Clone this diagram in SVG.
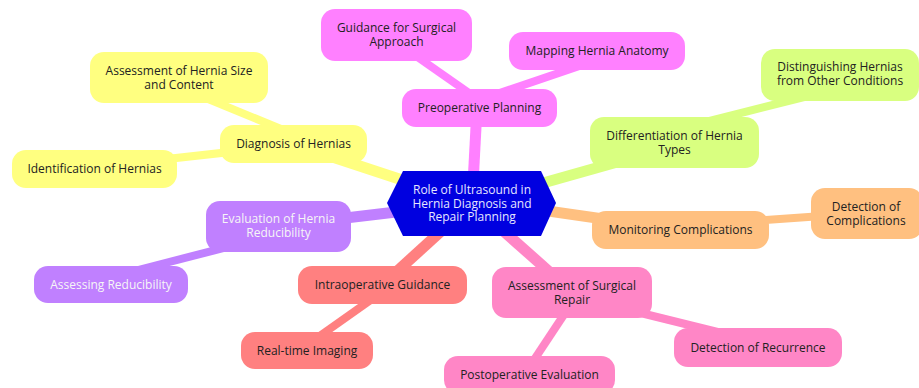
<svg xmlns="http://www.w3.org/2000/svg" width="919" height="388" viewBox="0 0 919 388">
  <style>
    text { font-family: "Open Sans", "DejaVu Sans", sans-serif; font-size: 12px; text-anchor: middle; fill: #222; }
    .root text { fill: #e6e6ff; }
    .light text { fill: #f6f6f6; }
    .edge { fill: none; stroke-linecap: butt; }
    .main { stroke-width: 11; }
    .sub { stroke-width: 8; }
    .c1 { fill: #ffff80; } .s1 { stroke: #ffff80; }
    .c2 { fill: #ff80ff; } .s2 { stroke: #ff80ff; }
    .c3 { fill: #d9ff80; } .s3 { stroke: #d9ff80; }
    .c4 { fill: #ffc080; } .s4 { stroke: #ffc080; }
    .c5 { fill: #c080ff; } .s5 { stroke: #c080ff; }
    .c6 { fill: #ff8080; } .s6 { stroke: #ff8080; }
    .c7 { fill: #ff86c6; } .s7 { stroke: #ff86c6; }
  </style>

  <!-- connectors -->
  <g id="connectors">
    <line class="edge main s1" x1="293" y1="144" x2="472" y2="203"/>
    <line class="edge main s2" x1="477" y1="108" x2="472" y2="203"/>
    <line class="edge main s3" x1="674" y1="146" x2="472" y2="203"/>
    <line class="edge main s4" x1="680" y1="230" x2="472" y2="200"/>
    <line class="edge main s5" x1="278" y1="226" x2="472" y2="203"/>
    <line class="edge main s6" x1="382" y1="285" x2="472" y2="203"/>
    <line class="edge main s7" x1="572" y1="292" x2="472" y2="203"/>

    <line class="edge sub s1" x1="179" y1="87" x2="293" y2="134"/>
    <line class="edge sub s1" x1="95" y1="167" x2="293" y2="145"/>
    <line class="edge sub s2" x1="396" y1="42" x2="479" y2="100"/>
    <line class="edge sub s2" x1="479" y1="100" x2="597" y2="60"/>
    <line class="edge sub s3" x1="674" y1="130" x2="840" y2="88"/>
    <line class="edge sub s4" x1="680" y1="226" x2="865" y2="213"/>
    <line class="edge sub s5" x1="111" y1="277" x2="278" y2="234"/>
    <line class="edge sub s6" x1="307" y1="345" x2="382" y2="292"/>
    <line class="edge sub s7" x1="572" y1="296" x2="758" y2="342"/>
    <line class="edge sub s7" x1="579" y1="292" x2="524" y2="375"/>
  </g>

  <!-- root -->
  <g id="root" class="root">
    <polygon points="387,203 403,171 541,171 556,203 541,236 403,236" fill="#0000e0"/>
    <text x="472" y="194">Role of Ultrasound in</text>
    <text x="472" y="207.5">Hernia Diagnosis and</text>
    <text x="472" y="221">Repair Planning</text>
  </g>

  <!-- diagnosis branch -->
  <g id="diagnosis">
    <rect class="c1" x="220" y="125" width="147" height="38" rx="14"/>
    <text x="293.5" y="148">Diagnosis of Hernias</text>
  </g>
  <g id="size-content">
    <rect class="c1" x="90" y="52" width="178" height="51" rx="14"/>
    <text x="179" y="75">Assessment of Hernia Size</text>
    <text x="179" y="88.5">and Content</text>
  </g>
  <g id="identification">
    <rect class="c1" x="12" y="150" width="165" height="38" rx="14"/>
    <text x="94.5" y="173">Identification of Hernias</text>
  </g>

  <!-- preoperative branch -->
  <g id="preoperative">
    <rect class="c2" x="402" y="89" width="155" height="38" rx="14"/>
    <text x="479.5" y="112">Preoperative Planning</text>
  </g>
  <g id="surgical-approach">
    <rect class="c2" x="321" y="9" width="151" height="52" rx="14"/>
    <text x="396.5" y="32">Guidance for Surgical</text>
    <text x="396.5" y="45.5">Approach</text>
  </g>
  <g id="mapping">
    <rect class="c2" x="509" y="32" width="176" height="38" rx="14"/>
    <text x="597" y="55">Mapping Hernia Anatomy</text>
  </g>

  <!-- differentiation branch -->
  <g id="differentiation">
    <rect class="c3" x="590" y="117" width="169" height="51" rx="14"/>
    <text x="674.5" y="140">Differentiation of Hernia</text>
    <text x="674.5" y="153.5">Types</text>
  </g>
  <g id="distinguishing">
    <rect class="c3" x="761" y="49" width="158" height="52" rx="14"/>
    <text x="840" y="71">Distinguishing Hernias</text>
    <text x="840" y="84.5">from Other Conditions</text>
  </g>

  <!-- complications branch -->
  <g id="monitoring">
    <rect class="c4" x="592" y="211" width="177" height="38" rx="14"/>
    <text x="680.5" y="234">Monitoring Complications</text>
  </g>
  <g id="detect-complications">
    <rect class="c4" x="811" y="188" width="112" height="51" rx="14"/>
    <text x="866" y="211">Detection of</text>
    <text x="866" y="224.5">Complications</text>
  </g>

  <!-- reducibility branch -->
  <g id="reducibility" class="light">
    <rect class="c5" x="206" y="201" width="145" height="51" rx="14"/>
    <text x="278.5" y="223">Evaluation of Hernia</text>
    <text x="278.5" y="236.5">Reducibility</text>
  </g>
  <g id="assessing" class="light">
    <rect class="c5" x="34" y="266" width="154" height="37" rx="14"/>
    <text x="111" y="288.5">Assessing Reducibility</text>
  </g>

  <!-- intraoperative branch -->
  <g id="intraoperative">
    <rect class="c6" x="298" y="266" width="169" height="38" rx="14"/>
    <text x="382.5" y="289">Intraoperative Guidance</text>
  </g>
  <g id="realtime">
    <rect class="c6" x="241" y="332" width="132" height="37" rx="14"/>
    <text x="307" y="355">Real-time Imaging</text>
  </g>

  <!-- surgical repair branch -->
  <g id="surgical-repair">
    <rect class="c7" x="492" y="267" width="160" height="51" rx="14"/>
    <text x="572" y="290">Assessment of Surgical</text>
    <text x="572" y="303.5">Repair</text>
  </g>
  <g id="recurrence">
    <rect class="c7" x="674" y="328" width="168" height="39" rx="14"/>
    <text x="758" y="351.5">Detection of Recurrence</text>
  </g>
  <g id="postoperative">
    <rect class="c7" x="444" y="356" width="171" height="38" rx="14"/>
    <text x="529.5" y="379">Postoperative Evaluation</text>
  </g>
</svg>
